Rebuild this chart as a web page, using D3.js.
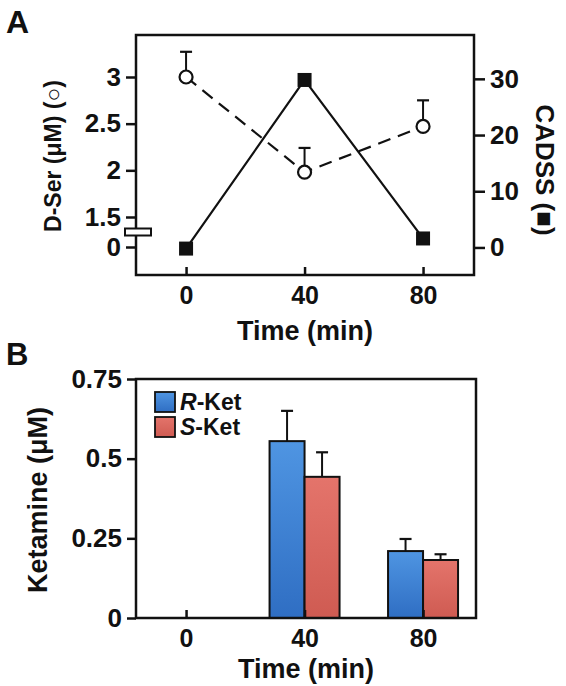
<!DOCTYPE html>
<html>
<head>
<meta charset="utf-8">
<script src="https://cdn.jsdelivr.net/npm/d3@7"></script>
<style>
  html, body { margin: 0; padding: 0; background: #fff; }
  svg { display: block; }
  text { font-family: "Liberation Sans", Arial, Helvetica, sans-serif; font-weight: bold; fill: #111; }
</style>
</head>
<body>
<svg id="chart" width="566" height="686"></svg>
<script>
// ---------- data ----------
const times = [0, 40, 80];
const timeLabels = ["0", "40", "80"];
// Panel A
const dSer = [3.0, 1.98, 2.47];          // µM (open circles, dashed)
const dSerErr = [0.27, 0.26, 0.28];      // upper SEM
const cadss = [-0.2, 29.8, 1.6];         // CADSS score (filled squares, solid)
const leftTicks = [0, 1.5, 2, 2.5, 3];
const rightTicks = [0, 10, 20, 30];
// Panel B
const seriesNames = ["R-Ket", "S-Ket"];
const rKet = [0, 0.555, 0.21];
const rKetErr = [0, 0.095, 0.038];
const sKet = [0, 0.443, 0.182];
const sKetErr = [0, 0.077, 0.018];
const bTicks = [0, 0.25, 0.5, 0.75];

// ---------- layout ----------
const svg = d3.select("#chart");
const A = {left: 136, right: 474, top: 35, bottom: 275};
const B = {left: 136, right: 476, top: 379, bottom: 618};
const ink = "#111";

// defs: gradients
const defs = svg.append("defs");
function grad(id, c1, c2) {
  const g = defs.append("linearGradient").attr("id", id)
    .attr("x1", 0).attr("y1", 0).attr("x2", 0).attr("y2", 1);
  g.append("stop").attr("offset", "0%").attr("stop-color", c1);
  g.append("stop").attr("offset", "100%").attr("stop-color", c2);
}
grad("gBlue", "#4f95e2", "#2f6ec3");
grad("gRed", "#e4746b", "#cf5b52");
const fills = {"R-Ket": "url(#gBlue)", "S-Ket": "url(#gRed)"};

// ---------- Panel A ----------
const xA = d3.scaleLinear().domain([-16.9, 97.2]).range([A.left, A.right]);
// broken left axis: 0 sits below the break, 1.5..3 above
const yL = d3.scaleLinear().domain([0, 1.5, 3.45]).range([247, 217, A.top]);
const yR = d3.scaleLinear().domain([-4.9, 37.8]).range([A.bottom, A.top]);

const gA = svg.append("g");

// lines
const dLine = d3.line().x((d, i) => xA(times[i])).y(d => yL(d));
const cLine = d3.line().x((d, i) => xA(times[i])).y(d => yR(d));
gA.append("path").datum(cadss).attr("d", cLine)
  .attr("fill", "none").attr("stroke", ink).attr("stroke-width", 2.2);
gA.append("path").datum(dSer).attr("d", dLine)
  .attr("fill", "none").attr("stroke", ink).attr("stroke-width", 2.2)
  .attr("stroke-dasharray", "13,8");

// error bars for D-Ser (upper only)
const eA = gA.selectAll(".errA").data(dSer).enter().append("g");
eA.append("line")
  .attr("x1", (d, i) => xA(times[i])).attr("x2", (d, i) => xA(times[i]))
  .attr("y1", d => yL(d)).attr("y2", (d, i) => yL(d + dSerErr[i]))
  .attr("stroke", ink).attr("stroke-width", 2);
eA.append("line")
  .attr("x1", (d, i) => xA(times[i]) - 6).attr("x2", (d, i) => xA(times[i]) + 6)
  .attr("y1", (d, i) => yL(d + dSerErr[i])).attr("y2", (d, i) => yL(d + dSerErr[i]))
  .attr("stroke", ink).attr("stroke-width", 2.2);

// markers
gA.selectAll(".sq").data(cadss).enter().append("rect")
  .attr("x", (d, i) => xA(times[i]) - 7).attr("y", d => yR(d) - 7)
  .attr("width", 14).attr("height", 14).attr("fill", ink);
gA.selectAll(".ci").data(dSer).enter().append("circle")
  .attr("cx", (d, i) => xA(times[i])).attr("cy", d => yL(d)).attr("r", 6.5)
  .attr("fill", "#fff").attr("stroke", ink).attr("stroke-width", 2.2);

// frame
gA.append("rect").attr("x", A.left).attr("y", A.top)
  .attr("width", A.right - A.left).attr("height", A.bottom - A.top)
  .attr("fill", "none").attr("stroke", ink).attr("stroke-width", 2.5);

function styleAxis(g, fs) {
  g.select(".domain").remove();
  g.selectAll(".tick line").attr("stroke", ink).attr("stroke-width", 2.5);
  g.selectAll(".tick text").attr("fill", ink).style("font-size", fs + "px")
    .style("font-family", '"Liberation Sans", Arial, sans-serif').style("font-weight", "bold");
}

const axL = gA.append("g").attr("transform", `translate(${A.left},0)`)
  .call(d3.axisLeft(yL).tickValues(leftTicks).tickFormat(d => String(d)).tickSize(10).tickPadding(5));
styleAxis(axL, 26);
const axR = gA.append("g").attr("transform", `translate(${A.right},0)`)
  .call(d3.axisRight(yR).tickValues(rightTicks).tickFormat(d => String(d)).tickSize(11).tickPadding(5));
styleAxis(axR, 26);
const axXA = gA.append("g").attr("transform", `translate(0,${A.bottom})`)
  .call(d3.axisBottom(xA).tickValues(times).tickFormat((d, i) => timeLabels[i]).tickSize(-8).tickPadding(11));
styleAxis(axXA, 25);

// axis break marker
gA.append("rect").attr("x", A.left - 11).attr("y", yL(0.75) - 3.5)
  .attr("width", 26).attr("height", 7).attr("fill", "#fff")
  .attr("stroke", ink).attr("stroke-width", 2);

// titles
svg.append("text").attr("x", 6).attr("y", 33).style("font-size", "32px").text("A");
svg.append("text").attr("transform", "translate(53,156) rotate(-90)")
  .attr("text-anchor", "middle").attr("dominant-baseline", "central")
  .style("font-size", "23px").text("D-Ser (\u03BCM) (\u25CB)");
svg.append("text").attr("transform", "translate(545,170) rotate(90)")
  .attr("text-anchor", "middle").attr("dominant-baseline", "central")
  .style("font-size", "26px").text("CADSS (\u25A0)");
svg.append("text").attr("x", (A.left + A.right) / 2 + 0).attr("y", 340)
  .attr("text-anchor", "middle").style("font-size", "27px").text("Time (min)");

// ---------- Panel B ----------
const xB = d3.scaleLinear().domain([-16.9, 97.2]).range([A.left, A.right]);
const yB = d3.scaleLinear().domain([0, 0.75]).range([B.bottom, B.top]);
const xSub = d3.scaleBand().domain(seriesNames).range([-35, 35]).padding(0);

const bData = [];
times.forEach((t, i) => {
  bData.push({t, s: "R-Ket", v: rKet[i], e: rKetErr[i]});
  bData.push({t, s: "S-Ket", v: sKet[i], e: sKetErr[i]});
});
const bShown = bData.filter(d => d.v > 0);

const gB = svg.append("g");
// error bars (behind bars)
const eB = gB.selectAll(".errB").data(bShown).enter().append("g");
eB.append("line")
  .attr("x1", d => xB(d.t) + xSub(d.s) + xSub.bandwidth() / 2)
  .attr("x2", d => xB(d.t) + xSub(d.s) + xSub.bandwidth() / 2)
  .attr("y1", d => yB(d.v)).attr("y2", d => yB(d.v + d.e))
  .attr("stroke", ink).attr("stroke-width", 2);
eB.append("line")
  .attr("x1", d => xB(d.t) + xSub(d.s) + xSub.bandwidth() / 2 - 6)
  .attr("x2", d => xB(d.t) + xSub(d.s) + xSub.bandwidth() / 2 + 6)
  .attr("y1", d => yB(d.v + d.e)).attr("y2", d => yB(d.v + d.e))
  .attr("stroke", ink).attr("stroke-width", 2.2);

gB.selectAll(".bar").data(bShown).enter().append("rect")
  .attr("x", d => xB(d.t) + xSub(d.s)).attr("y", d => yB(d.v))
  .attr("width", xSub.bandwidth()).attr("height", d => yB(0) - yB(d.v))
  .attr("fill", d => fills[d.s]).attr("stroke", ink).attr("stroke-width", 2);

gB.append("rect").attr("x", B.left).attr("y", B.top)
  .attr("width", B.right - B.left).attr("height", B.bottom - B.top)
  .attr("fill", "none").attr("stroke", ink).attr("stroke-width", 2.5);

const axLB = gB.append("g").attr("transform", `translate(${B.left},0)`)
  .call(d3.axisLeft(yB).tickValues(bTicks).tickFormat(d => String(d)).tickSize(9).tickPadding(5));
styleAxis(axLB, 26);
const axXB = gB.append("g").attr("transform", `translate(0,${B.bottom})`)
  .call(d3.axisBottom(xB).tickValues(times).tickFormat((d, i) => timeLabels[i]).tickSize(-8).tickPadding(11));
styleAxis(axXB, 25);

// legend
const lg = gB.append("g");
seriesNames.forEach((s, i) => {
  const y0 = 392 + i * 25;
  lg.append("rect").attr("x", 155).attr("y", y0).attr("width", 20).attr("height", 20)
    .attr("fill", fills[s]).attr("stroke", ink).attr("stroke-width", 1.8);
  const t = lg.append("text").attr("x", 180).attr("y", y0 + 18).style("font-size", "23px");
  t.append("tspan").style("font-style", "italic").text(s.split("-")[0]);
  t.append("tspan").text("-" + s.split("-")[1]);
});

svg.append("text").attr("x", 6).attr("y", 365).style("font-size", "31px").text("B");
svg.append("text").attr("transform", "translate(38,500) rotate(-90)")
  .attr("text-anchor", "middle").attr("dominant-baseline", "central")
  .style("font-size", "27px").text("Ketamine (\u03BCM)");
svg.append("text").attr("x", (B.left + B.right) / 2).attr("y", 678)
  .attr("text-anchor", "middle").style("font-size", "27px").text("Time (min)");
</script>
</body>
</html>
